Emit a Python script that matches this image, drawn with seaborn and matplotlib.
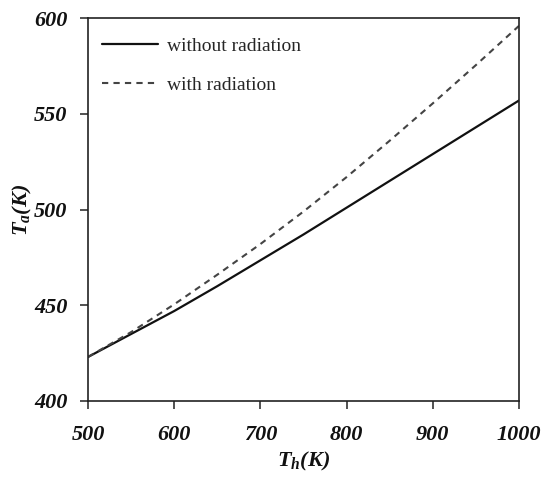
import matplotlib
matplotlib.use("Agg")
import matplotlib.pyplot as plt
import seaborn as sns
import pandas as pd

# Hot-side temperature T_h (K) and resulting T_a (K)
t_hot = [500, 550, 600, 650, 700, 750, 800, 850, 900, 950, 1000]
ta_without_radiation = [423, 435, 447, 460, 473.5, 487, 501, 515, 529, 543, 557]
ta_with_radiation = [423, 436, 450.5, 466, 482, 499, 517, 536, 555.5, 575.5, 596]
series_names = ["without radiation", "with radiation"]

x_ticks = [500, 600, 700, 800, 900, 1000]
y_ticks = [400, 450, 500, 550, 600]

sns.set_theme(style="white")
plt.rcParams["font.family"] = ["Liberation Serif", "DejaVu Serif"]
plt.rcParams["mathtext.fontset"] = "custom"
plt.rcParams["mathtext.rm"] = "Liberation Serif:bold:italic"
plt.rcParams["mathtext.it"] = "Liberation Serif:bold:italic"
plt.rcParams["mathtext.bf"] = "Liberation Serif:bold:italic"

df = pd.concat([
    pd.DataFrame({"Th": t_hot, "Ta": ta_without_radiation, "case": series_names[0]}),
    pd.DataFrame({"Th": t_hot, "Ta": ta_with_radiation, "case": series_names[1]}),
])

fig = plt.figure(figsize=(5.44, 4.79), dpi=100)
ax = fig.add_axes([0.162, 0.163, 0.792, 0.799])

sns.lineplot(data=df[df.case == series_names[0]], x="Th", y="Ta", ax=ax,
             color="#111111", linewidth=1.6, label=series_names[0])
sns.lineplot(data=df[df.case == series_names[1]], x="Th", y="Ta", ax=ax,
             color="#444444", linewidth=1.5, linestyle=(0, (3, 2.5)),
             label=series_names[1])

ax.set_xlim(500, 1000)
ax.set_ylim(400, 600)
ax.set_xticks(x_ticks)
ax.set_yticks(y_ticks)

for side in ["left", "bottom", "top", "right"]:
    ax.spines[side].set_visible(True)
    ax.spines[side].set_color("#222222")
    ax.spines[side].set_linewidth(1.2)

ax.tick_params(axis="both", which="major", direction="out", length=6, width=1.1,
               color="#222222", bottom=True, left=True, top=False, right=False,
               labelsize=16)
ax.tick_params(axis="y", pad=9)
ax.tick_params(axis="x", pad=11)
for lab in ax.get_xticklabels() + ax.get_yticklabels():
    lab.set_fontstyle("italic")
    lab.set_fontweight("bold")
    lab.set_color("#111111")

ax.set_xlabel(r"$T_h$(K)", fontsize=16, fontstyle="italic", fontweight="bold",
              labelpad=4, color="#111111")
ax.set_ylabel(r"$T_a$(K)", fontsize=16, fontstyle="italic", fontweight="bold",
              labelpad=0, color="#111111")

leg = ax.legend(loc="upper left", frameon=False, fontsize=14, handlelength=2.9,
                handletextpad=0.45, labelspacing=1.1, borderaxespad=0.3,
                bbox_to_anchor=(0.0, 0.985))

fig.savefig("out.png", dpi=100)
